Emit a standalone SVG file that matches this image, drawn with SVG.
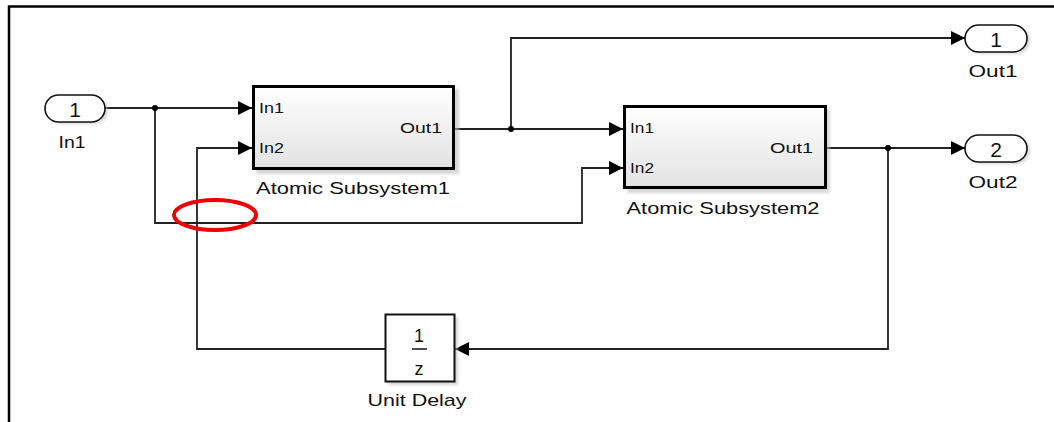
<svg xmlns="http://www.w3.org/2000/svg" width="1054" height="422" viewBox="0 0 1054 422">
<style>
.ln{fill:none;stroke:#222;stroke-width:1.8}
.lbl{font-family:"Liberation Sans",Arial,sans-serif;fill:#111}
.blk{stroke:#000;stroke-width:3;fill:url(#g)}
.port{fill:#fff;stroke:#111;stroke-width:1.6}
.sh{fill:#bbb;opacity:0.6}
</style>
<defs>
<linearGradient id="g" x1="0" y1="0" x2="0" y2="1">
<stop offset="0" stop-color="#ffffff"/>
<stop offset="1" stop-color="#e2e2e2"/>
</linearGradient>
<marker id="ah" markerUnits="userSpaceOnUse" markerWidth="14" markerHeight="14" refX="14" refY="7" orient="auto">
<path d="M0,0 L14,7 L0,14 z" fill="#000"/>
</marker>
<filter id="blur" x="-10%" y="-10%" width="130%" height="130%"><feGaussianBlur stdDeviation="1.5"/></filter>
</defs>
<rect width="1054" height="422" fill="#fff"/>
<path d="M9,422 V6.5 H1054" fill="none" stroke="#000" stroke-width="2.5"/>

<g id="connectors">
<path class="ln" d="M105,108 H252" marker-end="url(#ah)"/>
<path class="ln" d="M155,108 V223 H582 V168 H623" marker-end="url(#ah)"/>
<path class="ln" d="M455,129 H623" marker-end="url(#ah)"/>
<path class="ln" d="M511,129 V38 H965" marker-end="url(#ah)"/>
<path class="ln" d="M827,148 H965" marker-end="url(#ah)"/>
<path class="ln" d="M888,148 V349 H455" marker-end="url(#ah)"/>
<path class="ln" d="M385,349 H197 V148 H252" marker-end="url(#ah)"/>
<circle cx="155" cy="108" r="3" fill="#000"/>
<circle cx="511" cy="129" r="3" fill="#000"/>
<circle cx="888" cy="148" r="3" fill="#000"/>
</g>

<g id="In1">
<rect class="sh" x="48" y="97" width="60" height="27" rx="13.5" filter="url(#blur)"/>
<rect class="port" x="45" y="95" width="60" height="27" rx="13.5"/>
<text class="lbl" x="75" y="116.5" font-size="21" text-anchor="middle">1</text>
<text class="lbl" x="72" y="148" font-size="17" text-anchor="middle" textLength="27" lengthAdjust="spacingAndGlyphs">In1</text>
</g>

<g id="AtomicSubsystem1">
<rect class="sh" x="256" y="89" width="203" height="85" filter="url(#blur)"/>
<rect class="blk" x="253.5" y="86.5" width="200" height="82"/>
<text class="lbl" x="259" y="113" font-size="15" textLength="25" lengthAdjust="spacingAndGlyphs">In1</text>
<text class="lbl" x="259" y="153" font-size="15" textLength="25" lengthAdjust="spacingAndGlyphs">In2</text>
<text class="lbl" x="442" y="133" font-size="15" text-anchor="end" textLength="42" lengthAdjust="spacingAndGlyphs">Out1</text>
<text class="lbl" x="353" y="194" font-size="17" text-anchor="middle" textLength="194" lengthAdjust="spacingAndGlyphs">Atomic Subsystem1</text>
</g>

<g id="AtomicSubsystem2">
<rect class="sh" x="627" y="109" width="203" height="84" filter="url(#blur)"/>
<rect class="blk" x="624.5" y="106.5" width="201" height="81"/>
<text class="lbl" x="630" y="133" font-size="15" textLength="24" lengthAdjust="spacingAndGlyphs">In1</text>
<text class="lbl" x="630" y="173" font-size="15" textLength="24" lengthAdjust="spacingAndGlyphs">In2</text>
<text class="lbl" x="813" y="153" font-size="15" text-anchor="end" textLength="43" lengthAdjust="spacingAndGlyphs">Out1</text>
<text class="lbl" x="723" y="214" font-size="17" text-anchor="middle" textLength="193" lengthAdjust="spacingAndGlyphs">Atomic Subsystem2</text>
</g>

<g id="UnitDelay">
<rect class="sh" x="388" y="317" width="70" height="68" filter="url(#blur)"/>
<rect x="385.5" y="314.5" width="69" height="67" fill="#fff" stroke="#111" stroke-width="2"/>
<text class="lbl" x="419" y="342" font-size="18" text-anchor="middle">1</text>
<line x1="412" y1="349" x2="427" y2="349" stroke="#111" stroke-width="1.5"/>
<text class="lbl" x="419" y="375" font-size="18" text-anchor="middle">z</text>
<text class="lbl" x="417" y="406" font-size="17" text-anchor="middle" textLength="99" lengthAdjust="spacingAndGlyphs">Unit Delay</text>
</g>

<g id="Out1">
<rect class="sh" x="968" y="27" width="62" height="27" rx="13.5" filter="url(#blur)"/>
<rect class="port" x="965" y="25" width="62" height="27" rx="13.5"/>
<text class="lbl" x="996" y="46.5" font-size="21" text-anchor="middle">1</text>
<text class="lbl" x="993" y="77" font-size="17" text-anchor="middle" textLength="49" lengthAdjust="spacingAndGlyphs">Out1</text>
</g>

<g id="Out2">
<rect class="sh" x="968" y="137" width="62" height="27" rx="13.5" filter="url(#blur)"/>
<rect class="port" x="965" y="135" width="62" height="27" rx="13.5"/>
<text class="lbl" x="996" y="156.5" font-size="21" text-anchor="middle">2</text>
<text class="lbl" x="993" y="188" font-size="17" text-anchor="middle" textLength="49" lengthAdjust="spacingAndGlyphs">Out2</text>
</g>

<ellipse cx="215" cy="215" rx="41" ry="15" fill="none" stroke="#e00" stroke-width="4"/>
</svg>
